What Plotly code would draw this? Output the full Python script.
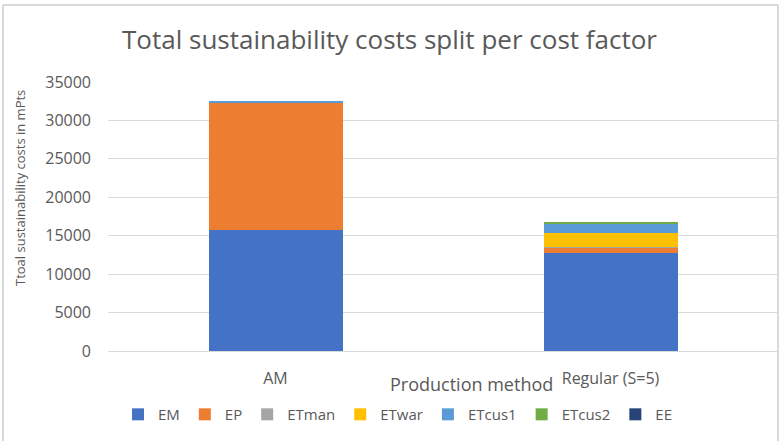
import plotly.graph_objects as go

# Production methods compared
methods = ["AM", "Regular (S=5)"]

# Cost factors (mPts) per production method
factors = ["EM", "EP", "ETman", "ETwar", "ETcus1", "ETcus2", "EE"]
EM = [15750, 12710]
EP = [16480, 780]
ETman = [0, 30]
ETwar = [0, 1820]
ETcus1 = [350, 1260]
ETcus2 = [0, 170]
EE = [0, 0]

series = [EM, EP, ETman, ETwar, ETcus1, ETcus2, EE]
colors = ["#4472C4", "#ED7D31", "#A5A5A5", "#FFC000", "#5B9BD5", "#70AD47", "#264478"]

FONT = "'Open Sans', sans-serif"
GREY = "#595959"

fig = go.Figure()
for name, vals, col in zip(factors, series, colors):
    fig.add_trace(go.Bar(name=name, x=methods, y=vals, marker_color=col,
                         marker_line_width=0))

fig.update_layout(
    barmode="stack",
    bargap=0.6,
    width=779, height=441,
    margin=dict(l=108, r=1, t=82, b=90),
    paper_bgcolor="white", plot_bgcolor="white",
    font=dict(family=FONT, color=GREY, size=15),
    title=dict(text="Total sustainability costs split per cost factor",
               x=0.5, xanchor="center", y=0.91, yanchor="middle",
               font=dict(size=26, color=GREY, family=FONT)),
    legend=dict(orientation="h", x=(398 - 108) / 670, xanchor="center", y=-0.175,
                yanchor="top", font=dict(size=15, color=GREY), traceorder="normal",
                itemwidth=30),
    showlegend=True,
)
fig.update_yaxes(range=[0, 35000], dtick=5000, showgrid=True, gridcolor="#D9D9D9",
                 gridwidth=1, zeroline=False, showline=False, tickformat="d",
                 ticks="", ticklabelstandoff=16, tickfont=dict(size=16, color=GREY))
fig.update_xaxes(showline=True, linecolor="#D9D9D9", linewidth=1, ticks="",
                 ticklabelstandoff=13, tickfont=dict(size=16, color=GREY))

# Axis titles
fig.add_annotation(text="Production method", xref="paper", yref="paper",
                   x=(472 - 108) / 670, y=-(384 - 351) / 269, xanchor="center",
                   yanchor="middle", showarrow=False, font=dict(size=18, color=GREY))
fig.add_annotation(text="Ttoal sustainability costs in mPts", xref="paper", yref="paper",
                   x=-(108 - 20) / 670, y=(351 - 188) / 269, xanchor="center",
                   yanchor="middle", textangle=-90, showarrow=False,
                   font=dict(size=13, color=GREY))

# Chart frame: left, top and right edges
x_left = -(108 - 3) / 670
y_top = (351 - 5) / 269
y_bot = -(441 - 351) / 269
frame = dict(color="#D9D9D9", width=2)
fig.add_shape(type="line", xref="paper", yref="paper", x0=x_left, x1=x_left,
              y0=y_bot, y1=y_top, line=frame)
fig.add_shape(type="line", xref="paper", yref="paper", x0=x_left, x1=1.0,
              y0=y_top, y1=y_top, line=frame)
fig.add_shape(type="line", xref="paper", yref="paper", x0=1.0, x1=1.0,
              y0=y_bot, y1=y_top, line=frame)

fig.write_html("out.html")
